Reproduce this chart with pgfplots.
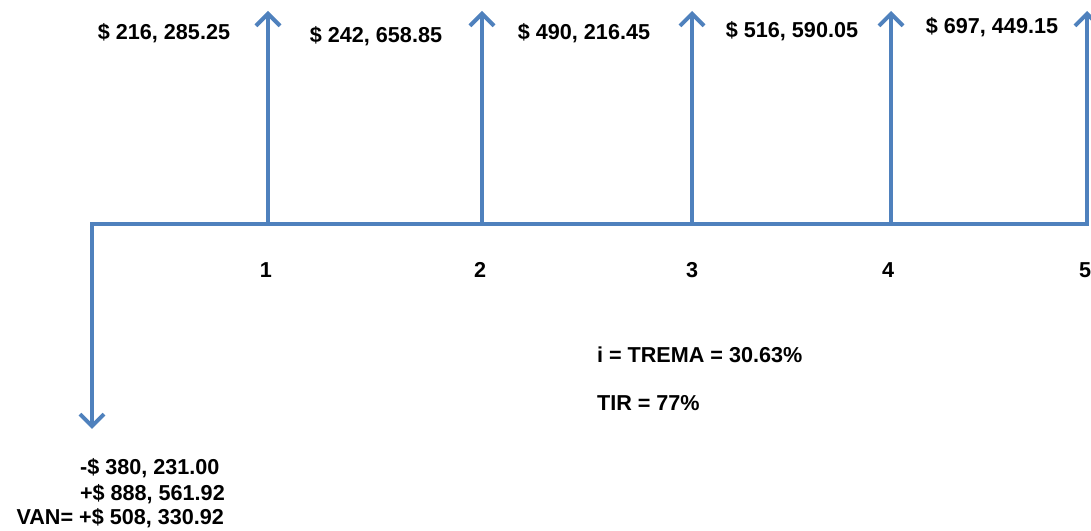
\documentclass[border=0pt]{standalone}
\usepackage{pgfplots}
\pgfplotsset{compat=1.18}
\usetikzlibrary{arrows.meta}
\usepackage{fontspec}
\setmainfont{Liberation Sans}
\definecolor{flow}{HTML}{4F81BD}
\begin{document}
\bfseries
\begin{tikzpicture}[font=\fontsize{10.8}{12.5}\selectfont\bfseries]
\begin{axis}[
  x=0.5pt, y=0.5pt,
  xmin=0, xmax=1091, ymin=0, ymax=530,
  hide axis, clip=false,
]
% base line
\addplot[flow, line width=2pt] coordinates {(90,306) (1089,306)};
% inflows
\addplot[flow, line width=2pt, -{Straight Barb[length=6pt,width=12pt]}] coordinates {(268,306) (268,519)};
\addplot[flow, line width=2pt, -{Straight Barb[length=6pt,width=12pt]}] coordinates {(482,306) (482,519)};
\addplot[flow, line width=2pt, -{Straight Barb[length=6pt,width=12pt]}] coordinates {(692,306) (692,519)};
\addplot[flow, line width=2pt, -{Straight Barb[length=6pt,width=12pt]}] coordinates {(891,306) (891,519)};
\addplot[flow, line width=2pt, -{Straight Barb[length=6pt,width=12pt]}] coordinates {(1087,306) (1087,519)};
% outflow
\addplot[flow, line width=2pt, -{Straight Barb[length=6pt,width=12pt]}] coordinates {(92,307) (92,101)};
% value labels
\node at (axis cs:164,497) {\textbf{\$ 216, 285.25}};
\node at (axis cs:376,494) {\textbf{\$ 242, 658.85}};
\node at (axis cs:584,497) {\textbf{\$ 490, 216.45}};
\node at (axis cs:792,499) {\textbf{\$ 516, 590.05}};
\node at (axis cs:992,503) {\textbf{\$ 697, 449.15}};
% period labels
\node at (axis cs:266,260) {\textbf{1}};
\node at (axis cs:480,260) {\textbf{2}};
\node at (axis cs:692,260) {\textbf{3}};
\node at (axis cs:888,260) {\textbf{4}};
\node at (axis cs:1085,260) {\textbf{5}};
% rates
\node[anchor=west] at (axis cs:590,175) {\textbf{i = TREMA = 30.63\%}};
\node[anchor=west] at (axis cs:590,127) {\textbf{TIR = 77\%}};
% VAN
\node[anchor=west] at (axis cs:73,62) {\textbf{-\$ 380, 231.00}};
\node[anchor=west] at (axis cs:73,36) {\textbf{+\$ 888, 561.92}};
\node[anchor=east] at (axis cs:231,12) {\textbf{VAN= +\$ 508, 330.92}};
\end{axis}
\pgfresetboundingbox
\path (current axis.south west) rectangle (current axis.north east);
\end{tikzpicture}
\end{document}
